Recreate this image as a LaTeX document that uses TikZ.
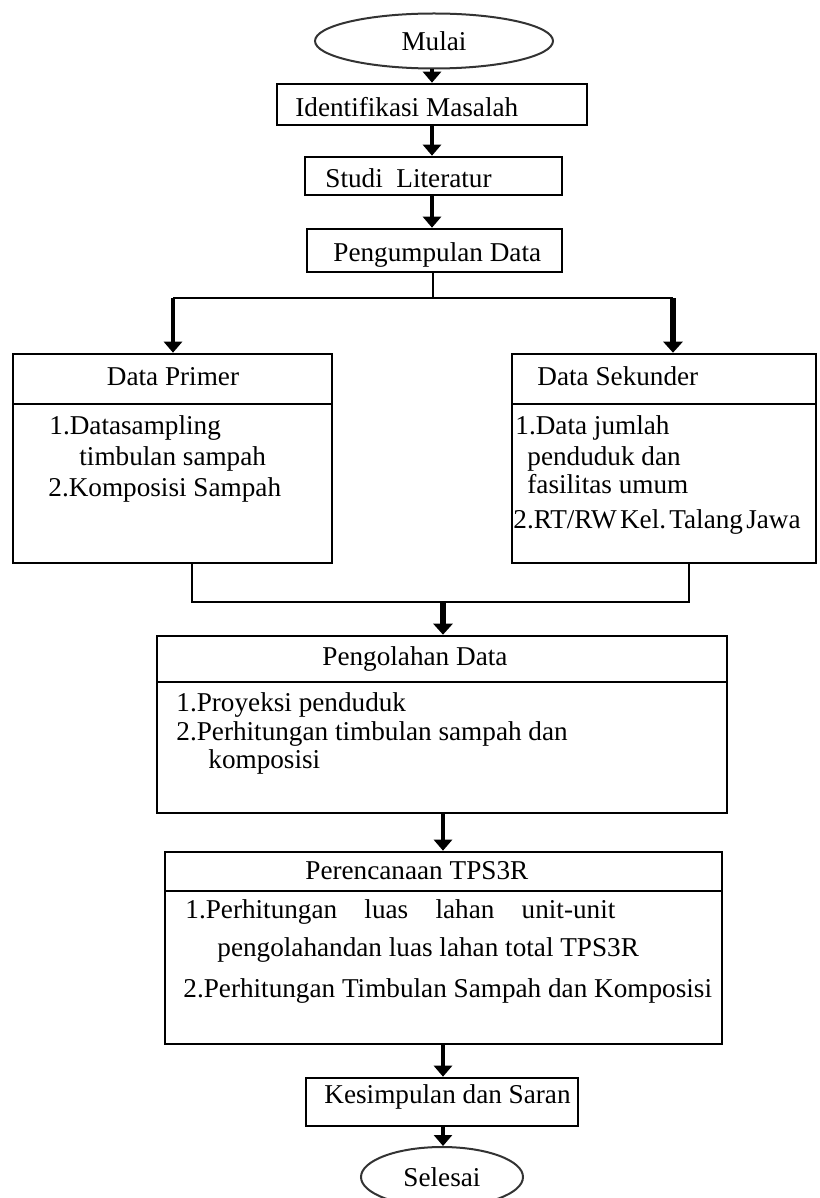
\documentclass[tikz,border=0pt]{standalone}
\usepackage{fontspec}
\setmainfont{Liberation Serif}
\usetikzlibrary{arrows.meta,shapes.geometric}
\newcommand{\myfs}{\fontsize{13.6pt}{16pt}\selectfont}
\tikzset{
  box/.style={draw=black, line width=1.3pt, rectangle, inner sep=0pt},
  ell/.style={draw=black!80, line width=1pt, ellipse, inner sep=0pt, font=\myfs},
  divider/.style={draw=black, line width=1.3pt},
  txt/.style={anchor=base west, inner sep=0pt, font=\myfs},
  ctxt/.style={anchor=base, inner sep=0pt, font=\myfs},
  arr/.style={line width=2pt, -{Triangle[width=9pt,length=5.5pt]}},
  arrb/.style={line width=3pt, -{Triangle[width=9.5pt,length=5.5pt]}},
  thinline/.style={line width=1pt},
}
\begin{document}
\begin{tikzpicture}[x=0.5pt,y=-0.5pt]
\useasboundingbox (0,0) rectangle (819,1198);
% ---- boxes
\node[ell, minimum width=119pt, minimum height=27.5pt] (mulai) at (434,41) {Mulai};
\node[box, minimum width=155pt, minimum height=20.5pt] (ident) at (432,104.5) {};
\node[box, minimum width=128.5pt, minimum height=19pt] (studi) at (433.5,176) {};
\node[box, minimum width=127.5pt, minimum height=21.5pt] (kumpul) at (434.5,250.5) {};
\node[box, minimum width=159.5pt, minimum height=104.5pt] (primer) at (172.5,458.5) {};
\node[box, minimum width=152pt, minimum height=104.5pt] (sekunder) at (664,458.5) {};
\node[box, minimum width=285pt, minimum height=88.5pt] (olah) at (442,724.5) {};
\node[box, minimum width=278.5pt, minimum height=96pt] (rencana) at (443.5,948) {};
\node[box, minimum width=136pt, minimum height=24pt] (simpul) at (442,1102) {};
\node[ell, minimum width=81pt, minimum height=30pt] (selesai) at (442,1177) {Selesai};
% ---- dividers
\draw[divider] (13,404) -- (332,404);
\draw[divider] (512,404) -- (816,404);
\draw[divider] (157,682) -- (727,682);
\draw[divider] (165,891) -- (722,891);
% ---- texts
\node[txt] (t1) at (295,117) {Identifikasi Masalah};
\node[txt] (t2) at (325,188) {Studi\ \ Literatur};
\node[txt] (t3) at (333,261) {Pengumpulan Data};
\node[ctxt] (tp) at (173,385) {Data Primer};
\node[txt] (tp1) at (49,434) {1.Datasampling};
\node[txt] (tp2) at (79,465) {timbulan sampah};
\node[txt] (tp3) at (48,496) {2.Komposisi Sampah};
\node[txt] (ts) at (537,385) {Data Sekunder};
\node[txt] (ts1) at (515,434) {1.Data jumlah};
\node[txt] (ts2) at (527,465) {penduduk dan};
\node[txt] (ts3) at (527,493) {fasilitas umum};
\node[txt] (ts4) at (513,528) {2.RT/RW\hspace{0.12em}Kel.\hspace{0.12em}Talang\hspace{0.12em}Jawa};
\node[txt] (to) at (322,665) {Pengolahan Data};
\node[txt] (to1) at (176,711) {1.Proyeksi penduduk};
\node[txt] (to2) at (176,740) {2.Perhitungan timbulan sampah dan};
\node[txt] (to3) at (208,768) {komposisi};
\node[txt] (tr) at (305,879) {Perencanaan TPS3R};
\node[txt] (tr1) at (185,918) {\makebox[215pt][s]{1.Perhitungan luas lahan unit-unit}};
\node[txt] (tr2) at (217,956) {pengolahandan luas lahan total TPS3R};
\node[txt] (tr3) at (183,997) {2.Perhitungan Timbulan Sampah dan Komposisi};
\node[txt] (tk) at (324,1103) {Kesimpulan dan Saran};
% ---- connectors
\draw[arr] (mulai.south -| ident.north) -- (ident.north);
\draw[arr] (ident.south) -- (ident.south |- studi.north);
\draw[arr] (ident.south |- studi.south) -- (ident.south |- kumpul.north);
\coordinate (bc) at (433,298);
\coordinate (bl) at (173,298);
\coordinate (br) at (673,298);
\draw[thinline] (kumpul.south -| bc) -- (bc);
\draw[thinline] (bl) -- (br);
\draw[arr] (bl) -- (bl |- primer.north);
\draw[arrb] (br) -- (br |- sekunder.north);
\coordinate (ml) at (192,602);
\coordinate (mr) at (689,602);
\coordinate (mm) at (443,602);
\draw[thinline] (primer.south -| ml) -- (ml) -- (mr) -- (sekunder.south -| mr);
\draw[arrb] (mm) -- (mm |- olah.north);
\draw[arr] (olah.south -| mm) -- (mm |- rencana.north);
\draw[arr] (rencana.south -| mm) -- (mm |- simpul.north);
\draw[arr] (simpul.south -| mm) -- (mm |- selesai.north);
\end{tikzpicture}
\end{document}
